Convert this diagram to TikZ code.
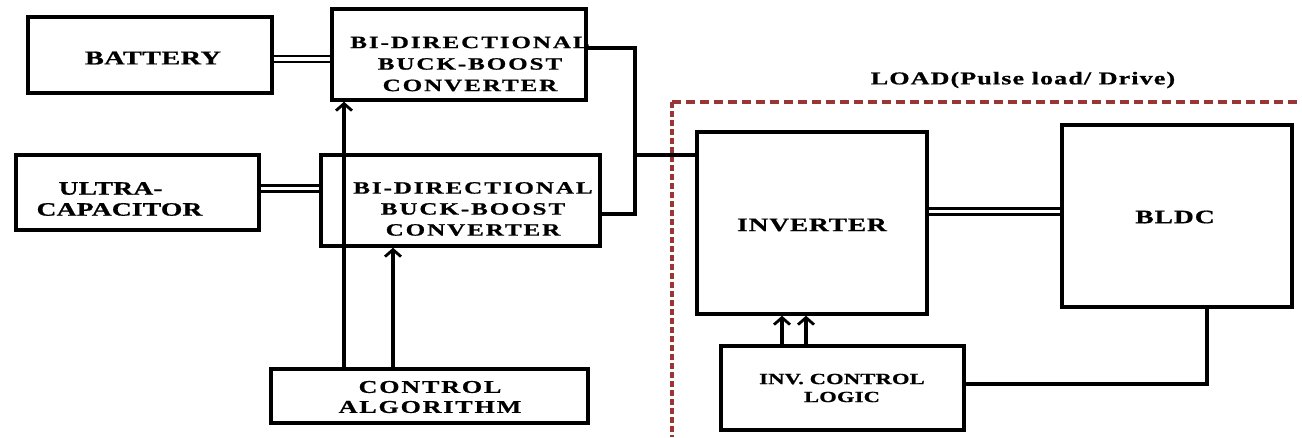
\documentclass[tikz,border=0pt]{standalone}
\usepackage{fontspec}
\setmainfont{Liberation Serif}
\newfontfamily\lf{Liberation Serif Bold}[FakeStretch=1.45,FakeBold=0.8]
\usetikzlibrary{arrows.meta,calc}
\definecolor{loadred}{RGB}{155,52,52}
\begin{document}
\begin{tikzpicture}[x=1pt,y=-1pt,
  blk/.style={draw,line width=3.5pt,inner sep=0pt,rectangle},
  wire/.style={line width=3.5pt},
  dbl/.style={draw=black,line width=2.3pt,double=white,double distance=3.5pt},
  arr/.style={line width=3.2pt,-{Straight Barb[length=7pt,width=16pt,line width=2.8pt]}},
  txt/.style n args={3}{font=\lf\addfontfeature{LetterSpace=#3}\fontsize{#1}{#2}\selectfont,align=center,inner sep=0pt}]
\useasboundingbox (0,0) rectangle (1302,437);
% boxes
\node[blk,minimum width=244pt,minimum height=76pt] (bat) at (150,55) {};
\node[txt={19.5}{22}{2}] (batt) at (153,58) {BATTERY};
\node[blk,minimum width=254pt,minimum height=91pt] (conv1) at (459,54.5) {};
\node[txt={17.3}{21.5}{11}] (conv1t) at (470,64) {BI-DIRECTIONAL\\BUCK-BOOST\\CONVERTER};
\node[blk,minimum width=243pt,minimum height=75pt] (ultra) at (137.5,192.5) {};
\node[txt={19}{21}{1},align=left] (ultrat) at (119.5,199) {\hspace*{22pt}ULTRA-\\CAPACITOR};
\node[blk,minimum width=279pt,minimum height=91pt] (conv2) at (460.5,200.5) {};
\node[txt={17.3}{21}{11}] (conv2t) at (473,209) {BI-DIRECTIONAL\\BUCK-BOOST\\CONVERTER};
\node[blk,minimum width=230pt,minimum height=182pt] (inv) at (812,223) {};
\node[txt={19}{22}{4}] (invt) at (812,225) {INVERTER};
\node[blk,minimum width=230pt,minimum height=182pt] (bldc) at (1177,216) {};
\node[txt={19}{22}{5}] (bldct) at (1175,217) {BLDC};
\node[blk,minimum width=243pt,minimum height=84pt] (icl) at (842.5,388) {};
\node[txt={15.5}{18}{1.5}] (iclt) at (842,388) {INV. CONTROL\\LOGIC};
\node[blk,minimum width=317pt,minimum height=54pt] (ca) at (429.5,396) {};
\node[txt={18}{20}{10}] (cat) at (430,397) {CONTROL\\ALGORITHM};
\node[txt={18}{20}{6}] (load) at (1023,80) {LOAD(Pulse load/ Drive)};
% dashed load region
\coordinate (lc) at (672,102);
\draw[loadred,line width=3.5pt,dash pattern=on 9pt off 5pt] (lc) -- (1302,102);
\draw[loadred,line width=3.5pt,dash pattern=on 6pt off 3pt] (lc) -- (672,437);
% double connectors
\draw[dbl] ($(bat.east)+(0,4)$) -- ($(conv1.west)+(0,4.5)$);
\draw[dbl] ($(ultra.east)+(0,-4)$) -- ($(conv2.west)+(0,-12)$);
\coordinate (ib) at (0,211.5);
\draw[dbl] (inv.east |- ib) -- (bldc.west |- ib);
% DC bus
\coordinate (b1) at (635,48);
\coordinate (b2) at (635,214);
\coordinate (b3) at (635,155);
\draw[wire] (conv1.east |- b1) -- (b1) -- (b2) -- (conv2.east |- b2);
\draw[wire] (b3) -- (inv.west |- b3);
% control arrows
\coordinate (a1) at (344,0);
\coordinate (a2) at (393,0);
\draw[arr] (ca.north -| a1) -- (conv1.south -| a1);
\draw[arr] (ca.north -| a2) -- (conv2.south -| a2);
\coordinate (a3) at (782,0);
\coordinate (a4) at (806,0);
\draw[arr] (icl.north -| a3) -- (inv.south -| a3);
\draw[arr] (icl.north -| a4) -- (inv.south -| a4);
% feedback
\coordinate (fb) at (1207,384);
\draw[wire] (bldc.south -| fb) -- (fb) -- (icl.east |- fb);
\end{tikzpicture}
\end{document}
